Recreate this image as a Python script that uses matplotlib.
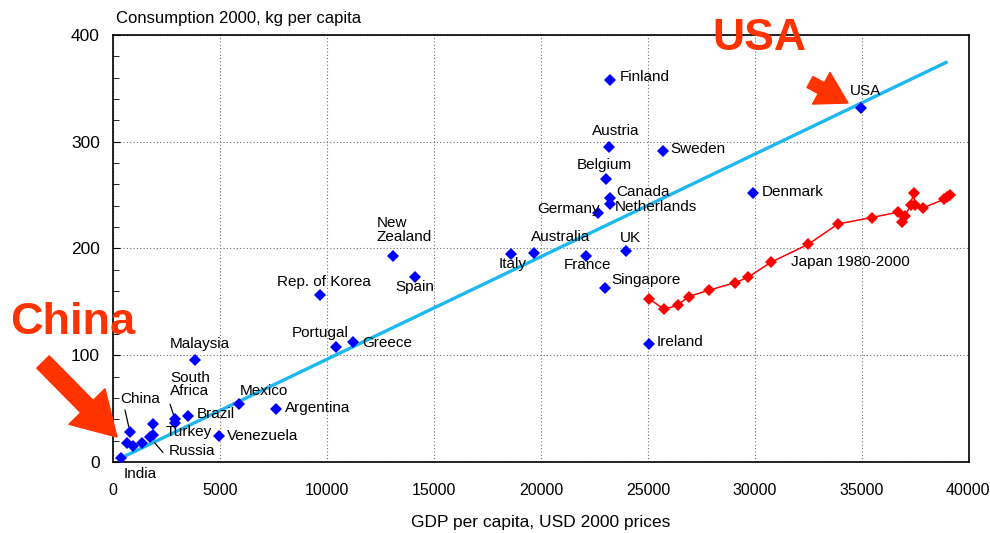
import matplotlib
matplotlib.use("Agg")
import matplotlib.pyplot as plt
import matplotlib.transforms as mtransforms
from matplotlib.patches import FancyArrowPatch
from matplotlib.ticker import MultipleLocator

# ---------------- data ----------------
countries = ["India", "", "China", "", "", "Russia", "", "", "South Africa", "Turkey",
             "Brazil", "Venezuela", "Mexico", "Argentina", "Malaysia", "Portugal",
             "Greece", "Rep. of Korea", "New Zealand", "Spain", "Italy", "Australia",
             "France", "UK", "Singapore", "Ireland", "Germany", "Belgium", "Canada",
             "Netherlands", "Austria", "Finland", "Sweden", "Denmark", "USA"]
gdp = [380, 670, 794, 950, 1370, 1730, 1885, 1885, 2900, 2900,
       3490, 4950, 5900, 7600, 3830, 10400,
       11200, 9690, 13100, 14110, 18580, 19690,
       22100, 23970, 22980, 25060, 22650, 23040, 23220,
       23220, 23160, 23220, 25690, 29890, 34970]
consumption = [4, 18, 28, 15, 18, 23, 25, 36, 40, 37,
               43, 24, 54, 50, 96, 108,
               112, 156, 193, 173, 195, 196,
               193, 198, 163, 111, 233, 265, 247,
               242, 295, 358, 291, 252, 332]

japan_gdp = [25050, 25750, 26390, 26900, 27850, 29080, 29670, 30730, 32490, 33880,
             35450, 36670, 36870, 37010, 37270, 37410, 37480, 37840, 38830, 38990, 39110]
japan_cons = [153, 143, 147, 155, 161, 168, 173, 187, 204, 223,
              229, 234, 225, 230, 241, 252, 241, 238, 246, 248, 250]

trend_gdp = [400, 39000]
trend_cons = [4, 375]

xticks = [0, 5000, 10000, 15000, 20000, 25000, 30000, 35000, 40000]
yticks = [0, 100, 200, 300, 400]

# ---------------- label layout (pixel offsets from marker) ----------------
label_pos = {
    "India": (19, -16, "center"), "China": (10, 33, "center"),
    "Russia": (19, -14, "left"), "South Africa": (-5, 35, "left"),
    "Turkey": (-9, -9, "left"), "Brazil": (9, 2, "left"),
    "Venezuela": (8, 0, "left"), "Mexico": (0, 13, "left"),
    "Argentina": (9, 1, "left"), "Malaysia": (5, 16, "center"),
    "Portugal": (-15, 14, "center"), "Greece": (10, -1, "left"),
    "Rep. of Korea": (4, 13, "center"), "New Zealand": (-17, 26, "left"),
    "Spain": (0, -10, "center"), "Italy": (2, -10, "center"),
    "Australia": (-3, 16, "left"), "France": (2, -9, "center"),
    "UK": (4, 13, "center"), "Singapore": (7, 8, "left"),
    "Ireland": (7, 2, "left"), "Germany": (2, 4, "right"),
    "Belgium": (-2, 14, "center"), "Canada": (6, 6, "left"),
    "Netherlands": (5, -3, "left"), "Austria": (7, 16, "center"),
    "Finland": (10, 3, "left"), "Sweden": (8, 2, "left"),
    "Denmark": (9, 1, "left"), "USA": (-11, 17, "left"),
}
leaders = {"China": ((-5, 22), 4), "Russia": ((13, -15), 5), "South Africa": ((-5, 15), 2)}

RED = "#FF3300"
plt.rcParams["font.family"] = ["Liberation Sans", "DejaVu Sans"]

fig = plt.figure(figsize=(9.9, 5.33), dpi=100)
ax = fig.add_axes([113 / 990, 71 / 533, 856 / 990, 427 / 533])

ax.grid(True, color="#707070", linestyle=(0, (1, 2)), linewidth=0.8)
ax.set_axisbelow(True)

ax.plot(trend_gdp, trend_cons, color="#1EB8F0", lw=2.4, solid_capstyle="butt", zorder=2)
ax.plot(japan_gdp, japan_cons, color="#FF0000", lw=1.1, marker="D", markersize=5.8,
        markeredgewidth=0, zorder=3)
ax.plot(gdp, consumption, linestyle="none", color="#0000FF", marker="D", markersize=6.2,
        markeredgewidth=0, zorder=4)

for name, x, y in zip(countries, gdp, consumption):
    if not name:
        continue
    dx, dy, ha = label_pos[name]
    txt = name.replace("New Zealand", "New\nZealand").replace("South Africa", "South\nAfrica")
    ax.annotate(txt, (x, y), xytext=(dx, dy), textcoords="offset pixels",
                ha=ha, va="center", fontsize=11, linespacing=0.95, zorder=5,
                annotation_clip=False)
    if name in leaders:
        (lx, ly), shr = leaders[name]
        ax.annotate("", (x, y), xytext=(lx, ly), textcoords="offset pixels",
                    arrowprops=dict(arrowstyle="-", color="black", lw=0.9,
                                    shrinkA=0, shrinkB=shr))

ax.annotate("Japan 1980-2000", (japan_gdp[7], japan_cons[7]), xytext=(20, 0),
            textcoords="offset pixels", ha="left", va="center", fontsize=11)

ax.set_xlim(0, 40000)
ax.set_ylim(0, 400)
ax.set_xticks(xticks)
ax.set_yticks(yticks)
ax.yaxis.set_minor_locator(MultipleLocator(20))
ax.tick_params(axis="both", which="both", direction="in", top=False, right=False)
ax.tick_params(axis="y", which="major", length=5, pad=9.5, labelsize=12.5)
ax.tick_params(axis="y", which="minor", length=4)
ax.tick_params(axis="x", which="major", length=0, pad=15, labelsize=11.5)
last = ax.get_xticklabels()[-1]
last.set_horizontalalignment("right")
last.set_transform(last.get_transform()
                   + mtransforms.ScaledTranslation(21 / 100, 0, fig.dpi_scale_trans))
for s in ax.spines.values():
    s.set_linewidth(1.2)

ax.set_xlabel("GDP per capita, USD 2000 prices", fontsize=12.5, labelpad=12)
fig.text(116 / 990, 1 - 19 / 533, "Consumption 2000, kg per capita", fontsize=12,
         ha="left", va="center")

# big red call-outs
fig.text(10 / 990, 1 - 322 / 533, "China", fontsize=32.5, fontweight="bold", color=RED,
         ha="left", va="center")
fig.text(712 / 990, 1 - 39 / 533, "USA", fontsize=32, fontweight="bold", color=RED,
         ha="left", va="center")
arrow_style = "simple,head_width=2.6,head_length=2.2,tail_width=0.9"
fig.add_artist(FancyArrowPatch(
    (43, 533 - 362), (117, 533 - 437), arrowstyle=arrow_style, mutation_scale=14,
    color=RED, transform=None, shrinkA=0, shrinkB=0))
fig.add_artist(FancyArrowPatch(
    (810, 533 - 82), (848, 533 - 103), arrowstyle=arrow_style, mutation_scale=10,
    color=RED, transform=None, shrinkA=0, shrinkB=0))

fig.savefig("out.png", dpi=100)
